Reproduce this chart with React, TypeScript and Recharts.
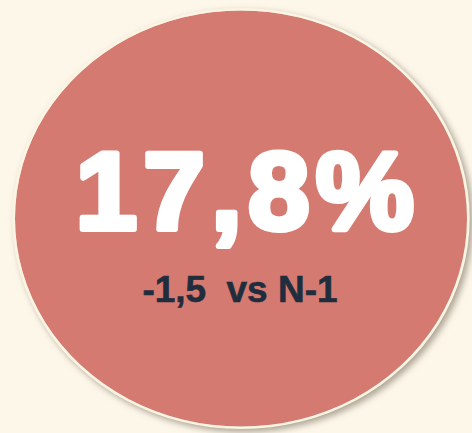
import React from 'react';
import { PieChart, Pie, Cell } from 'recharts';

// single KPI value shown as a full ellipse
const slices = ['taux'];
const sliceValues = [17.8];
const mainLabel = ['17,8%'];
const deltaLabel = ['-1,5', 'vs N-1'];

const W = 472;
const H = 433;
const CX = 241;
const CY = 218.5;
const RY = 208;
const RX = 226;

const App: React.FC = () => {
    const chartData = slices.map((name, i) => ({ name, value: sliceValues[i] }));

    return (
        <div
            style={{
                position: 'absolute',
                left: 0,
                top: 0,
                width: W,
                height: H,
                background: '#fdf7ea',
                overflow: 'hidden',
            }}
        >
            <div
                style={{
                    position: 'absolute',
                    left: 0,
                    top: 0,
                    width: W,
                    height: H,
                    transform: `scaleX(${RX / RY})`,
                    transformOrigin: `${CX}px ${CY}px`,
                    filter: 'drop-shadow(3px 3px 3px rgba(90, 80, 60, 0.5))',
                }}
            >
                <PieChart width={W} height={H} margin={{ top: 0, right: 0, bottom: 0, left: 0 }}>
                    <Pie
                        data={chartData}
                        dataKey="value"
                        cx={CX}
                        cy={CY}
                        innerRadius={0}
                        outerRadius={RY}
                        startAngle={90}
                        endAngle={-270}
                        stroke="none"
                        isAnimationActive={false}
                    >
                        {chartData.map((entry, index) => (
                            <Cell key={`cell-${index}`} fill="#d57a71" stroke="none" />
                        ))}
                    </Pie>
                    {/* thin cream rim */}
                    <Pie
                        data={chartData}
                        dataKey="value"
                        cx={CX}
                        cy={CY}
                        innerRadius={RY}
                        outerRadius={RY + 2.5}
                        startAngle={90}
                        endAngle={-270}
                        stroke="none"
                        isAnimationActive={false}
                    >
                        {chartData.map((entry, index) => (
                            <Cell key={`rim-${index}`} fill="#fcf4e3" stroke="none" />
                        ))}
                    </Pie>
                </PieChart>
            </div>
            <svg
                width={W}
                height={H}
                style={{ position: 'absolute', left: 0, top: 0 }}
            >
                <text
                    x={248}
                    y={229}
                    textAnchor="middle"
                    fontFamily="'Liberation Sans', Arial, sans-serif"
                    fontWeight={900}
                    fontSize={110}
                    letterSpacing={6.5}
                    fill="#ffffff"
                    stroke="#ffffff"
                    strokeWidth={6}
                    strokeLinejoin="round"
                >
                    {mainLabel[0]}
                </text>
                <text
                    x={240}
                    y={302}
                    textAnchor="middle"
                    fontFamily="'Liberation Sans', Arial, sans-serif"
                    fontWeight={700}
                    fontSize={37}
                    fill="#1f2d3d"
                    stroke="#1f2d3d"
                    strokeWidth={0.6}
                >
                    {`${deltaLabel[0]} `}
                    <tspan dx={10}>{deltaLabel[1]}</tspan>
                </text>
            </svg>
        </div>
    );
};

export default App;
